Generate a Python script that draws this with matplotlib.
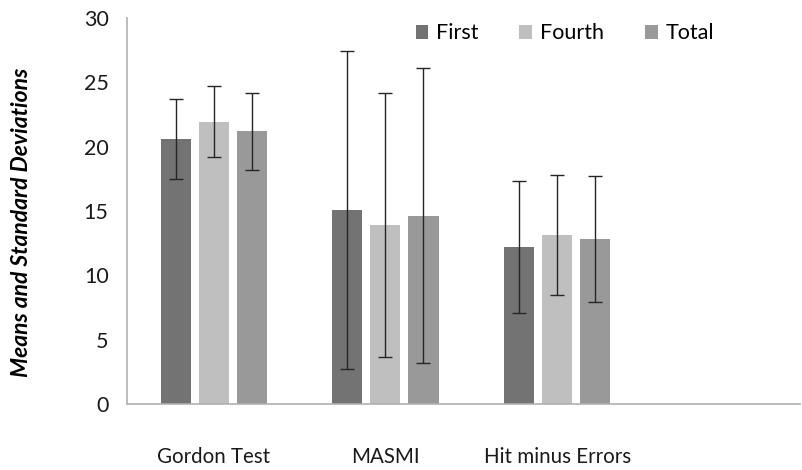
import matplotlib
matplotlib.use("Agg")
import matplotlib.pyplot as plt
import numpy as np

categories = ["Gordon Test", "MASMI", "Hit minus Errors", ""]
series = ["First", "Fourth", "Total"]
means = {
    "First": [20.6, 15.05, 12.2, np.nan],
    "Fourth": [21.95, 13.9, 13.15, np.nan],
    "Total": [21.2, 14.65, 12.8, np.nan],
}
sds = {
    "First": [3.1, 12.35, 5.1, np.nan],
    "Fourth": [2.75, 10.25, 4.65, np.nan],
    "Total": [3.0, 11.45, 4.9, np.nan],
}
colors = {"First": "#737373", "Fourth": "#bfbfbf", "Total": "#999999"}

plt.rcParams["font.family"] = ["Lato", "DejaVu Sans"]

fig = plt.figure(figsize=(8.02, 4.70), dpi=100, facecolor="white")
ax = fig.add_axes([0.158, 0.1404, 0.840, 0.8213])

x = np.arange(len(categories))
width = 0.175
step = 0.2216
for i, name in enumerate(series):
    ax.bar(
        x + (i - 1) * step,
        means[name],
        width,
        color=colors[name],
        label=name,
        yerr=sds[name],
        error_kw={"ecolor": "#262626", "elinewidth": 1.0, "capsize": 5, "capthick": 1.0},
        zorder=2,
    )

ax.set_xlim(-0.507, 3.417)
ax.set_ylim(0, 30)
ax.set_yticks(range(0, 31, 5))
ax.set_xticks(x)
ax.set_xticklabels(categories)
ax.tick_params(axis="x", length=0, pad=31, labelsize=14.8, labelcolor="#1a1a1a")
ax.tick_params(axis="y", length=0, pad=13, labelsize=15.5, labelcolor="#1a1a1a")
for side in ("top", "right"):
    ax.spines[side].set_visible(False)
for side in ("left", "bottom"):
    ax.spines[side].set_color("#b0b0b0")
    ax.spines[side].set_linewidth(1.2)

ax.set_ylabel(
    "Means and Standard Deviations",
    fontsize=16.5,
    fontweight="bold",
    fontstyle="italic",
)
ax.yaxis.set_label_coords(-0.141, 0.4715)

ax.legend(
    loc="center",
    bbox_to_anchor=(0.65, 0.96),
    ncol=3,
    frameon=False,
    fontsize=15.5,
    handlelength=0.6,
    handleheight=0.6,
    handletextpad=0.35,
    columnspacing=1.9,
)

fig.savefig("out.png", dpi=100, facecolor="white")
